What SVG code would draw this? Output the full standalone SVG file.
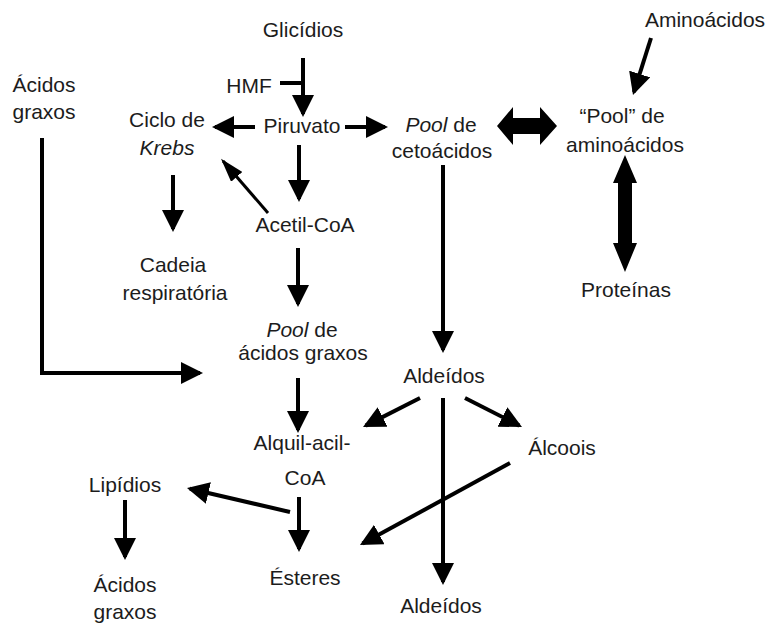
<svg xmlns="http://www.w3.org/2000/svg" width="768" height="626" viewBox="0 0 768 626">
<defs>
<style>
text{font-family:"Liberation Sans",Arial,sans-serif;font-size:21px;fill:#1c1c1c;text-anchor:middle}
.i{font-style:italic}
.c{fill:none;stroke:#000;stroke-width:4}
.a{marker-end:url(#ah)}
.thin{stroke-width:3;marker-end:url(#ahs)}
.big{fill:#000}
</style>
<marker id="ah" viewBox="0 0 22 22" markerWidth="22" markerHeight="22" markerUnits="userSpaceOnUse" refX="19" refY="11" orient="auto"><path d="M0,0 L22,11 L0,22 z" fill="#000"/></marker>
<marker id="ahs" viewBox="0 0 24 15" markerWidth="24" markerHeight="15" markerUnits="userSpaceOnUse" refX="21" refY="7.5" orient="auto"><path d="M0,0 L24,7.5 L0,15 z" fill="#000"/></marker>
</defs>
<rect width="768" height="626" fill="#fff"/>
<g id="connectors">
<path class="c a" d="M303,58 V114"/>
<path class="c" d="M280,83 H303"/>
<path class="c a" d="M255,127 H215"/>
<path class="c a" d="M345,127 H385"/>
<path class="c a" d="M299,145 V199"/>
<path class="c thin" d="M268,213 L223,161"/>
<path class="c a" d="M173,175 V229"/>
<path class="c a" d="M298,248 V304"/>
<path class="c a" d="M42,138 V373 H200"/>
<path class="c a" d="M443,165 V350"/>
<polygon class="big" points="497,126 513,107 513,118 540,118 540,107 557,126 540,145 540,134 513,134 513,145"/>
<polygon class="big" points="625,155 637,183 632,183 632,243 637,243 625,272 613,243 618,243 618,183 613,183"/>
<path class="c a" d="M651,38 L633.9,92.1"/>
<path class="c a" d="M420,398 L365.7,425.6"/>
<path class="c a" d="M465,398 L519.3,425.6"/>
<path class="c a" d="M443,398 V582"/>
<path class="c a" d="M510,463 L362.6,543.6"/>
<path class="c a" d="M298,378 V430"/>
<path class="c a" d="M299,497 V549"/>
<path class="c a" d="M290,512 L189.9,488.7"/>
<path class="c a" d="M125,500 V557"/>
</g>
<g id="glicidios"><text x="303" y="37">Glicídios</text></g>
<g id="aminoacidos"><text x="705" y="27">Aminoácidos</text></g>
<g id="acidos-graxos-top"><text x="44" y="92">Ácidos</text><text x="44" y="119">graxos</text></g>
<g id="hmf"><text x="249" y="93">HMF</text></g>
<g id="krebs"><text x="167" y="127">Ciclo de</text><text x="167" y="155" class="i">Krebs</text></g>
<g id="piruvato"><text x="302" y="133">Piruvato</text></g>
<g id="pool-cetoacidos"><text x="441" y="132"><tspan class="i">Pool</tspan> de</text><text x="442" y="158">cetoácidos</text></g>
<g id="pool-aminoacidos"><text x="622" y="123">“Pool” de</text><text x="625" y="152">aminoácidos</text></g>
<g id="acetil-coa"><text x="305" y="232">Acetil-CoA</text></g>
<g id="cadeia"><text x="173" y="272">Cadeia</text><text x="175" y="300">respiratória</text></g>
<g id="proteinas"><text x="626" y="297">Proteínas</text></g>
<g id="pool-acidos-graxos"><text x="302" y="337"><tspan class="i">Pool</tspan> de</text><text x="303" y="360">ácidos graxos</text></g>
<g id="aldeidos-mid"><text x="444" y="383">Aldeídos</text></g>
<g id="alcoois"><text x="562" y="455">Álcoois</text></g>
<g id="alquil-acil-coa"><text x="302" y="450">Alquil-acil-</text><text x="305" y="485">CoA</text></g>
<g id="lipidios"><text x="125" y="492">Lipídios</text></g>
<g id="acidos-graxos-bottom"><text x="125" y="592">Ácidos</text><text x="125" y="619">graxos</text></g>
<g id="esteres"><text x="305" y="585">Ésteres</text></g>
<g id="aldeidos-bottom"><text x="441" y="613">Aldeídos</text></g>
</svg>
